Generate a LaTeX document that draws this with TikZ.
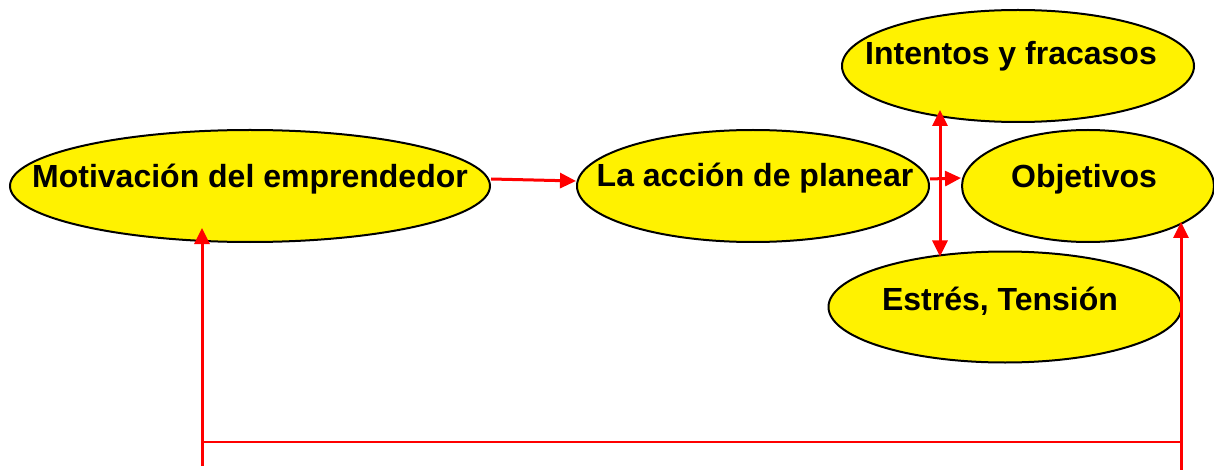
\documentclass[tikz,border=0pt]{standalone}
\usepackage{fontspec}
\setmainfont{Liberation Sans}
\usetikzlibrary{shapes.geometric,arrows.meta}
\begin{document}
\begin{tikzpicture}[x=1pt,y=-1pt,>={Triangle[length=16pt,width=15pt]},
 elli/.style={ellipse,draw,line width=2pt,fill=yellow,inner sep=0pt},
 lbl/.style={anchor=base,inner sep=0pt,font=\bfseries\fontsize{32}{36}\selectfont},
 rline/.style={red,line width=3pt}]
\useasboundingbox (0,0) rectangle (1214,470);
\node[elli,minimum width=480pt,minimum height=112pt](motiv) at (250,186){};
\node[elli,minimum width=352pt,minimum height=112pt](accion) at (753,186){};
\node[elli,minimum width=252pt,minimum height=112pt](objet) at (1088,186){};
\node[elli,minimum width=352pt,minimum height=112pt](intent) at (1018,66){};
\node[elli,minimum width=353pt,minimum height=111pt](estres) at (1005,307){};
\node[lbl](motivt) at (250,188){Motivación del emprendedor};
\node[lbl](acciont) at (755,187){La acción de planear};
\node[lbl](objett) at (1084,188){Objetivos};
\node[lbl](intentt) at (1011,65){Intentos y fracasos};
\node[lbl](estrest) at (1000,310){Estrés, Tensión};
\draw[rline,->]([yshift=7pt]motiv.east)--([yshift=5pt]accion.west);
\draw[rline,->]([yshift=7pt]accion.east)--([yshift=8pt]objet.west);
\draw[rline,<->]([xshift=-78pt,yshift=13pt]intent.south)--([xshift=-65pt,yshift=-6pt]estres.north);
\coordinate (lb) at (202,466);
\coordinate (rb) at (1181,470);
\draw[rline,->](lb)--([xshift=-48pt,yshift=15pt]motiv.south);
\draw[rline,->](rb)--([xshift=93pt,yshift=21pt]objet.south);
\draw[red,line width=1.5pt]([yshift=24pt]lb)--([yshift=28pt]rb);
\end{tikzpicture}
\end{document}
